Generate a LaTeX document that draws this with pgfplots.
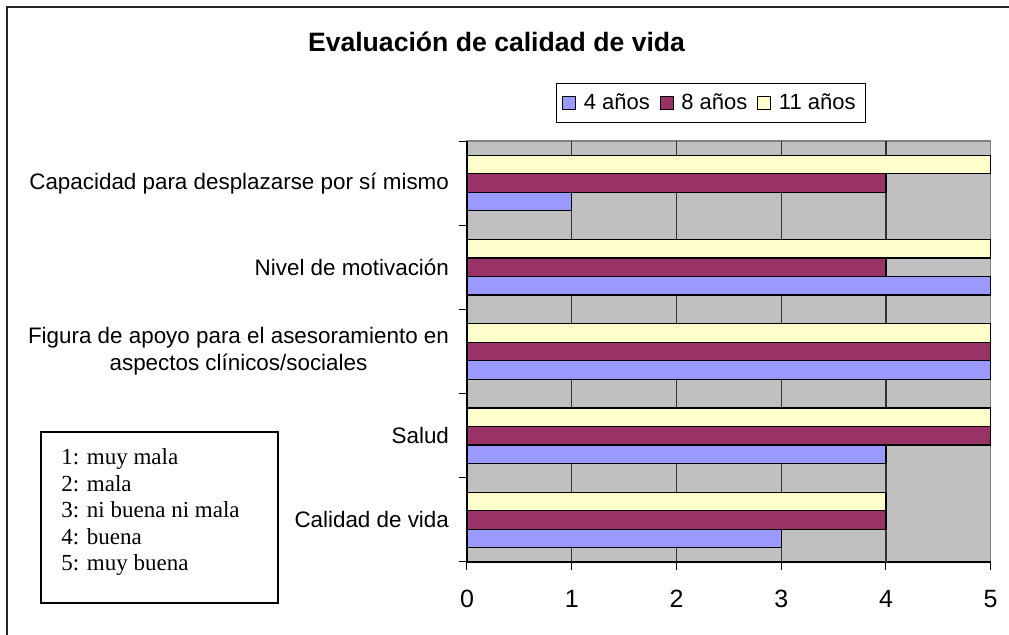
\documentclass[border=0pt]{standalone}
\usepackage{pgfplots}
\pgfplotsset{compat=1.18}
\usepackage{fontspec}
\setmainfont{Liberation Sans}
\newfontfamily\timesf{Liberation Serif}
\definecolor{c4}{HTML}{9999FF}
\definecolor{c8}{HTML}{993366}
\definecolor{c11}{HTML}{FFFFCC}
\definecolor{bgc}{HTML}{C0C0C0}
\definecolor{bord}{HTML}{808080}
\begin{document}
\begin{tikzpicture}
\useasboundingbox (0,0) rectangle (504.5pt,-317.5pt);
\draw[line width=0.8pt, black!85] (3.5pt,-317.5pt) -- (3.5pt,-3.5pt) -- (504.5pt,-3.5pt);
\node[anchor=base, font=\bfseries\fontsize{13.3}{16}\selectfont] at (248.25pt,-25.85pt) {Evaluación de calidad de vida};
\draw[line width=0.75pt, black] (20.5pt,-216pt) rectangle (139pt,-301.5pt);
\begin{scope}[every node/.style={anchor=base west, inner sep=0pt, font=\timesf\fontsize{11.5}{13}\selectfont}]
\node at (30.5pt,-232.5pt) {1: muy mala};
\node at (30.5pt,-246pt) {2: mala};
\node at (30.5pt,-259pt) {3: ni buena ni mala};
\node at (30.5pt,-272.5pt) {4: buena};
\node at (30.5pt,-285.5pt) {5: muy buena};
\end{scope}
\begin{axis}[
  at={(233.5pt,-281pt)}, anchor=south west,
  width=261.85pt, height=210.5pt, scale only axis,
  xbar, bar width=0.22,
  xmin=0, xmax=5, ymin=-0.5, ymax=4.5,
  enlargelimits=false, clip=false,
  axis background/.style={fill=bgc, draw=bord, line width=0.6pt},
  axis x line*=bottom, axis y line*=left,
  axis line style={-, black, line width=0.6pt},
  tick align=outside, major tick length=4pt,
  tick style={black, line width=0.5pt},
  xtick={0,1,2,3,4,5},
  extra x ticks={1,2,3,4}, extra x tick labels={},
  extra x tick style={grid=major},
  major grid style={black!80, line width=0.6pt},
  ytick={-0.5,0.5,1.5,2.5,3.5,4.5}, yticklabels={},
  extra y ticks={0,1,2,3,4},
  extra y tick labels={Calidad de vida, Salud, {Figura de apoyo para el asesoramiento en\\aspectos clínicos/sociales}, Nivel de motivación, Capacidad para desplazarse por sí mismo},
  extra y tick style={major tick length=0pt},
  yticklabel style={align=center, xshift=-5.5pt, font=\fontsize{11.2}{13.5}\selectfont},
  xticklabel style={yshift=-6.5pt, font=\fontsize{12.5}{15}\selectfont},
  /pgf/number format/assume math mode=true,
  legend style={at={(0.4659,1.0903)}, anchor=center, legend columns=-1, draw=black, line width=0.5pt,
    inner xsep=3pt, inner ysep=3pt,
    font=\fontsize{11}{13}\selectfont, /tikz/every even column/.append style={column sep=3pt}},
  legend image code/.code={\draw[#1,draw=black,line width=0.5pt] (0pt,-3.25pt) rectangle (6.5pt,3.25pt); \path[draw=none,fill=none] (8.5pt,0pt);},
]
\addplot[fill=c4, draw=black, line width=0.6pt, bar shift=-0.22] coordinates {(3,0) (4,1) (5,2) (5,3) (1,4)};
\addplot[fill=c8, draw=black, line width=0.6pt, bar shift=0] coordinates {(4,0) (5,1) (5,2) (4,3) (4,4)};
\addplot[fill=c11, draw=black, line width=0.6pt, bar shift=0.22] coordinates {(4,0) (5,1) (5,2) (5,3) (5,4)};
\legend{4 años, 8 años, 11 años}
\end{axis}
\end{tikzpicture}
\end{document}
